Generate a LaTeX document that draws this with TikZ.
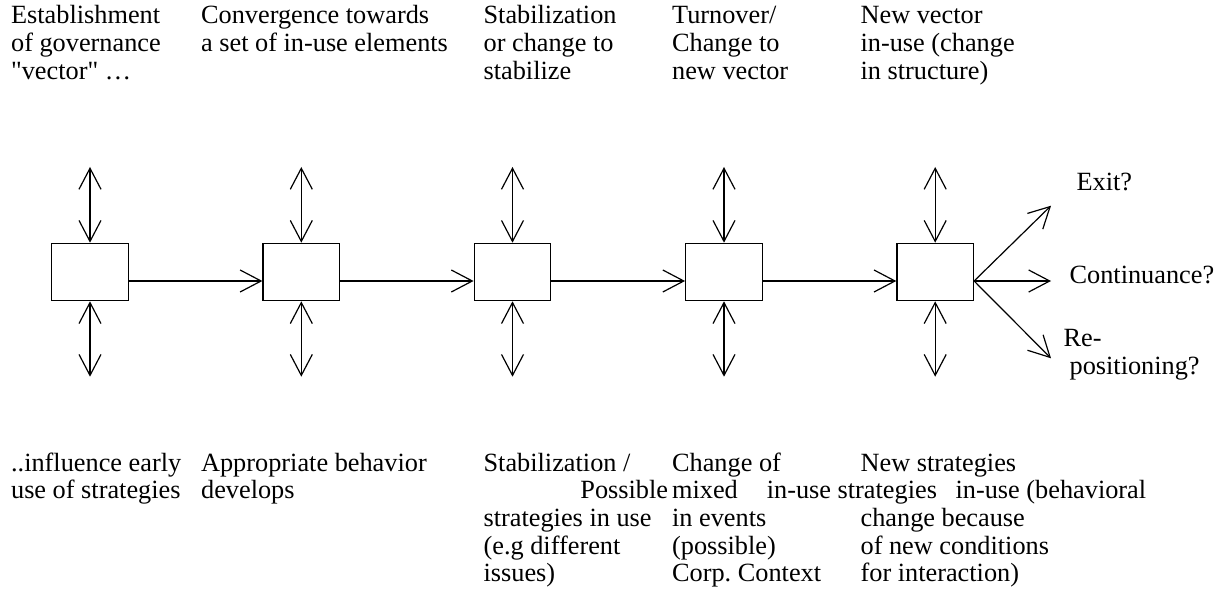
\documentclass[tikz,border=0pt]{standalone}
\usepackage{fontspec}
\setmainfont{Liberation Serif}[Ligatures=TeXOff]
\usetikzlibrary{arrows.meta}
\frenchspacing
\begin{document}
\begin{tikzpicture}[x=1pt,y=-1pt,
  line width=1.2pt,
  stage/.style={draw, minimum width=76.6pt, minimum height=57.4pt, inner sep=0pt},
  % multi-line labels are placed by the baseline of their last line
  lbl/.style={anchor=base west, align=left, inner sep=0pt,
              font=\fontsize{26.3}{27.7}\selectfont},
  barb/.style={-{Straight Barb[length=21pt,width=22pt]}},
  dbl/.style={{Straight Barb[length=21pt,width=22pt]}-{Straight Barb[length=21pt,width=22pt]}},
]
\useasboundingbox (0,0) rectangle (1223,601);

% the five stages
\node[stage] (b1) at (90,272)    {};
\node[stage] (b2) at (301.3,272) {};
\node[stage] (b3) at (512.5,272) {};
\node[stage] (b4) at (724,272)   {};
\node[stage] (b5) at (935.2,272) {};

% two-way influences above and below each stage
\foreach \i/\x in {1/90,2/301.3,3/512.5,4/724,5/935.2}{
  \coordinate (t\i) at (\x,167);
  \coordinate (u\i) at (\x,376.7);
  \draw[dbl] (t\i) -- (b\i.north);
  \draw[dbl] (b\i.south) -- (u\i);
}

% progression between stages
\draw[barb] ([yshift=-9pt]b1.east) -- ([yshift=-9pt]b2.west);
\draw[barb] ([yshift=-9pt]b2.east) -- ([yshift=-9pt]b3.west);
\draw[barb] ([yshift=-9pt]b3.east) -- ([yshift=-9pt]b4.west);
\draw[barb] ([yshift=-9pt]b4.east) -- ([yshift=-9pt]b5.west);

% outcomes after the last stage
\coordinate (oexit) at (1051,205.7);
\coordinate (ocont) at (1051,281);
\coordinate (orepo) at (1051,358.3);
\draw[barb] ([yshift=-9pt]b5.east) -- (oexit);
\draw[barb] ([yshift=-9pt]b5.east) -- (ocont);
\draw[barb] ([yshift=-9pt]b5.east) -- (orepo);
\node[lbl] (lexit) at (1076,190.7) {Exit?};
\node[lbl] (lcont) at (1069,284) {Continuance?};
\node[lbl] (lrepo) at (1063,374.7) {Re-\\\hspace*{6pt}positioning?};

% headings above the stages
\node[lbl] (h1) at (10.5,79.4) {Establishment\\of governance\\"vector" …};
\node[lbl] (h2) at (200.5,51.7) {Convergence towards\\a set of in-use elements};
\node[lbl] (h3) at (483,79.4) {Stabilization\\or change to\\stabilize};
\node[lbl] (h4) at (671.5,79.4) {Turnover/\\Change to\\new vector};
\node[lbl] (h5) at (860,79.4) {New vector\\in-use (change\\in structure)};

% behaviour notes below the stages
\node[lbl] (n1) at (10.5,498.7) {..influence early\\use of strategies};
\node[lbl] (n2) at (200.5,498.7) {Appropriate behavior\\develops};
\node[lbl] (n3) at (483,581.8) {Stabilization /\\\hspace*{96.8pt}Possible\\strategies in use\\(e.g different\\issues)};
\node[lbl] (n4) at (671.5,581.8) {Change of\\mixed\hspace*{29pt}in-use strategies\\in events\\(possible)\\Corp. Context};
\node[lbl] (n5) at (860,581.8) {New strategies\\\hspace*{95pt}in-use (behavioral\\change because\\of new conditions\\for interaction)};
\end{tikzpicture}
\end{document}
